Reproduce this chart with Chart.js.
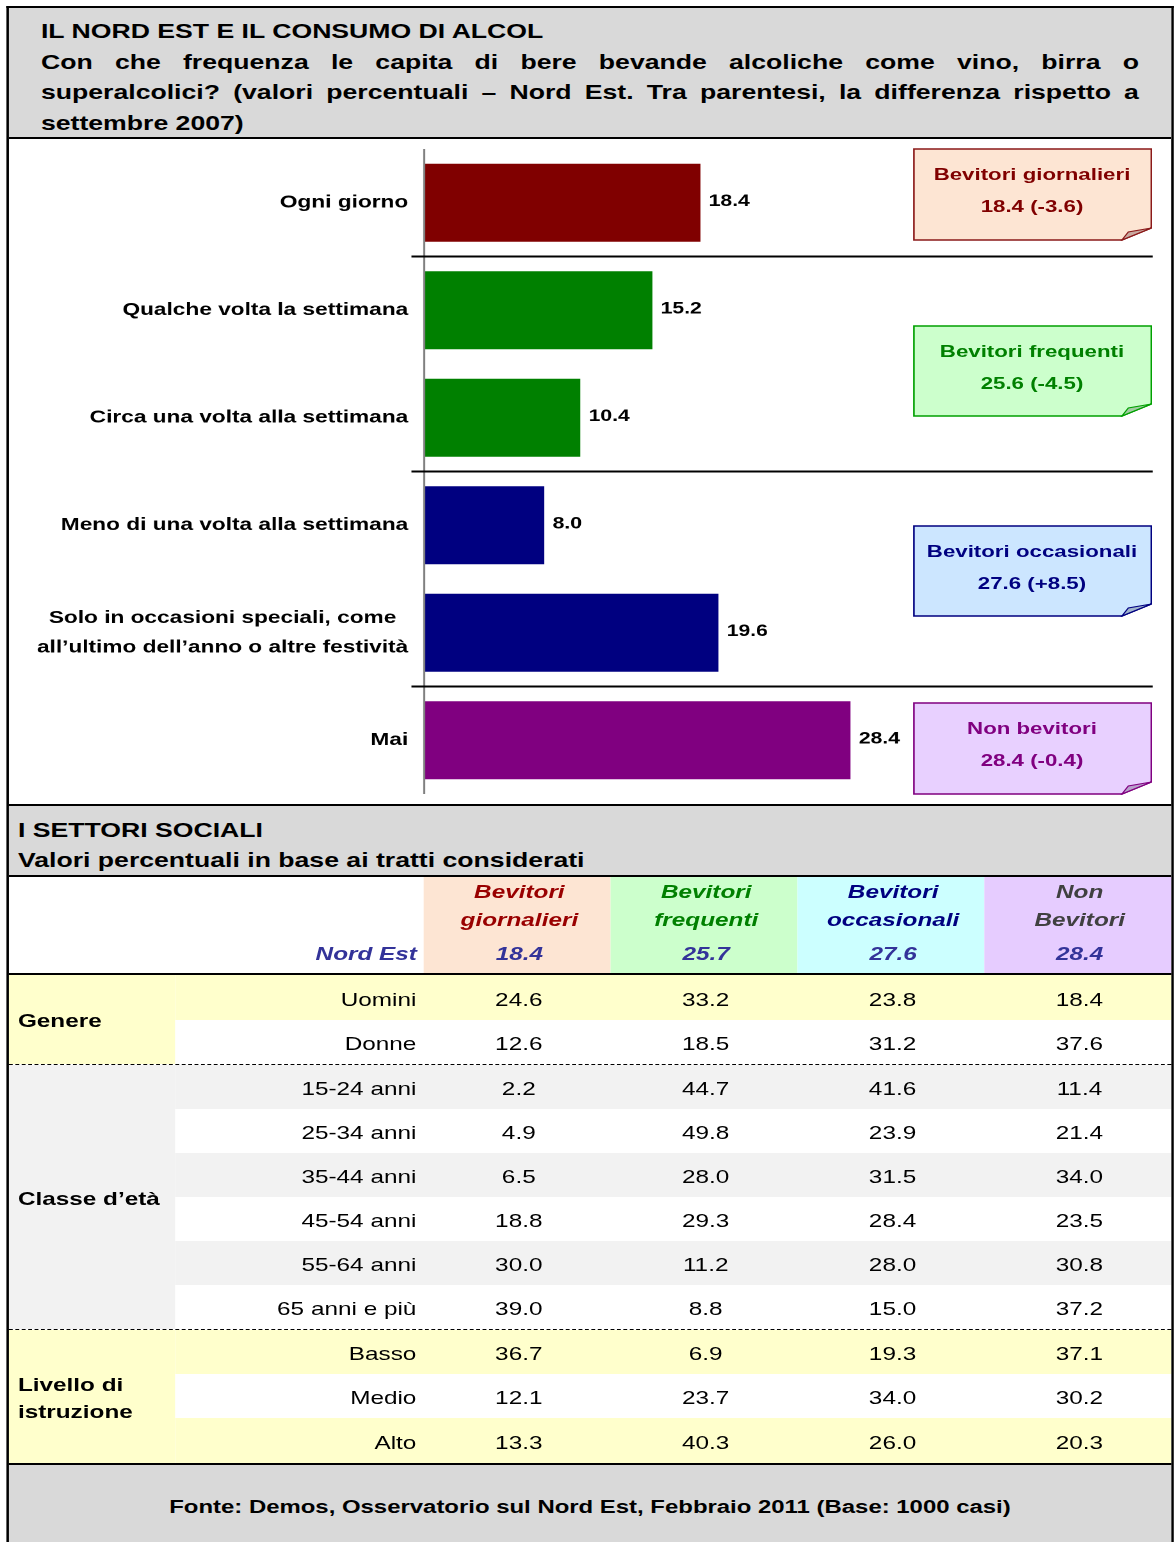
<!DOCTYPE html>
<html><head><meta charset="utf-8">
<script src="https://cdn.jsdelivr.net/npm/chart.js@4.4.0/dist/chart.umd.min.js"></script>
<style>
html,body{margin:0;padding:0;background:#fff;overflow:hidden;}
body{width:1176px;height:1542px;position:relative;}
#stage{position:absolute;left:0;top:0;width:918.75px;height:1542px;transform:scaleX(1.28);transform-origin:0 0;font-family:'Liberation Sans',Arial,sans-serif;color:#000;}
#frame{position:absolute;left:5px;top:6px;width:907.8px;height:1536px;border:2px solid #000;border-bottom:none;}
.blk{box-sizing:border-box;width:100%;position:relative;}
#hdr{height:131px;background:#d9d9d9;border-bottom:2px solid #000;padding:8px 25px 0 25px;font-weight:bold;font-size:20.8px;line-height:30.7px;}
#hdr .q{text-align:justify;}
#chartbox{height:667px;border-bottom:2px solid #000;}
#cwrap{position:absolute;left:0;top:0;width:907.8px;height:665px;}
.note{position:absolute;left:705.5px;width:187.5px;font-weight:bold;font-size:17.4px;line-height:32px;text-align:center;}
.note svg{position:absolute;left:0;top:0;width:100%;height:100%;}
.note .t{position:relative;padding-top:10px;}
#sec{height:71px;background:#d9d9d9;border-bottom:2px solid #000;padding:9px 0 0 7px;font-weight:bold;font-size:20.8px;line-height:30px;}
#thead{height:98px;border-bottom:2px solid #000;display:flex;}
#thead .lead{width:324.25px;position:relative;}
#thead .lead span{position:absolute;right:5.5px;top:63px;line-height:28px;}
#thead .hc{width:146px;position:relative;text-align:center;padding-left:3px;box-sizing:border-box;}
#thead .hc:last-child{flex:1;}
.hname{line-height:28px;padding-top:1px;}
.hnum{position:absolute;left:3px;right:0;top:63px;line-height:28px;color:#333399;}
#thead{font-weight:bold;font-style:italic;font-size:19px;}
.grp{display:flex;box-sizing:border-box;}
.glab{width:130.5px;display:flex;align-items:center;padding-left:7px;box-sizing:border-box;font-weight:bold;font-size:19px;line-height:27px;}
.glab div{position:relative;top:1px;}
.grows{flex:1;}
.row{display:flex;font-size:19px;}
.row > div{position:relative;top:2px;}
.row .sl{width:193.75px;text-align:right;padding-right:5.5px;box-sizing:border-box;}
.row .dc{width:146px;text-align:center;padding-left:3px;box-sizing:border-box;}
.row .dc:last-child{flex:1;}
#foot{height:77px;background:#d9d9d9;font-weight:bold;font-size:18.7px;text-align:center;line-height:83px;}
</style></head>
<body>
<div id="stage"><div id="frame">
  <div id="hdr" class="blk">
    <div id="title1"></div>
    <div class="q" id="title2"></div>
  </div>
  <div id="chartbox" class="blk">
    <div id="cwrap"><canvas id="c"></canvas></div>
    <div id="notes"></div>
  </div>
  <div id="sec" class="blk"><div id="sec1"></div><div id="sec2"></div></div>
  <div id="thead" class="blk"></div>
  <div id="tbody"></div>
  <div id="foot" class="blk"></div>
</div></div>
<script>
// ---------- data ----------
const titleText = 'IL NORD EST E IL CONSUMO DI ALCOL';
const questionText = 'Con che frequenza le capita di bere bevande alcoliche come vino, birra o superalcolici? (valori percentuali – Nord Est. Tra parentesi, la differenza rispetto a settembre 2007)';
const categories = [
  'Ogni giorno',
  'Qualche volta la settimana',
  'Circa una volta alla settimana',
  'Meno di una volta alla settimana',
  ['Solo in occasioni speciali, come', 'all’ultimo dell’anno o altre festività'],
  'Mai'
];
const values = [18.4, 15.2, 10.4, 8.0, 19.6, 28.4];
const barColors = ['#800000', '#008000', '#008000', '#000080', '#000080', '#800080'];
const groupEnds = [0, 2, 4];

const noteTitles = ['Bevitori giornalieri', 'Bevitori frequenti', 'Bevitori occasionali', 'Non bevitori'];
const noteValues = ['18.4 (-3.6)', '25.6 (-4.5)', '27.6 (+8.5)', '28.4 (-0.4)'];

const sectionTitle = 'I SETTORI SOCIALI';
const sectionSub = 'Valori percentuali in base ai tratti considerati';
const totalLabel = 'Nord Est';
const segmentNames = [['Bevitori', 'giornalieri'], ['Bevitori', 'frequenti'], ['Bevitori', 'occasionali'], ['Non', 'Bevitori']];
const segmentTotals = ['18.4', '25.7', '27.6', '28.4'];
const groupLabels = ['Genere', 'Classe d’età', 'Livello di<br>istruzione'];
const groupSizes = [2, 6, 3];
const rowLabels = ['Uomini', 'Donne', '15-24 anni', '25-34 anni', '35-44 anni', '45-54 anni', '55-64 anni', '65 anni e più', 'Basso', 'Medio', 'Alto'];
const giornalieri = ['24.6', '12.6', '2.2', '4.9', '6.5', '18.8', '30.0', '39.0', '36.7', '12.1', '13.3'];
const frequenti = ['33.2', '18.5', '44.7', '49.8', '28.0', '29.3', '11.2', '8.8', '6.9', '23.7', '40.3'];
const occasionali = ['23.8', '31.2', '41.6', '23.9', '31.5', '28.4', '28.0', '15.0', '19.3', '34.0', '26.0'];
const nonBevitori = ['18.4', '37.6', '11.4', '21.4', '34.0', '23.5', '30.8', '37.2', '37.1', '30.2', '20.3'];
const sourceText = 'Fonte: Demos, Osservatorio sul Nord Est, Febbraio 2011 (Base: 1000 casi)';

// ---------- styles ----------
const FONT = "'Liberation Sans', Arial, sans-serif";
const noteStyles = [
  {fill:'#fde5d3', stroke:'#8b1a1a', text:'#800000', fold:'#c9a9a0'},
  {fill:'#ccffcc', stroke:'#00a000', text:'#008000', fold:'#a0cca0'},
  {fill:'#cce6ff', stroke:'#000080', text:'#000080', fold:'#a0b4cc'},
  {fill:'#e8d0ff', stroke:'#800080', text:'#800080', fold:'#b8a0cc'}
];
const noteTops = [9, 186, 386, 563];
const noteHeights = [93, 92, 92, 93];
const headBg = ['#fde5d3', '#ccffcc', '#ccffff', '#e6ccff'];
const headColor = ['#990000', '#008000', '#000080', '#404040'];
const groupBg = ['#ffffcc', '#f2f2f2', '#ffffcc'];
const rowBgs = [['#ffffcc', '#ffffff'], ['#f2f2f2', '#ffffff', '#f2f2f2', '#ffffff', '#f2f2f2', '#ffffff'], ['#ffffcc', '#ffffff', '#ffffcc']];
const rowHeights = [[45, 44], [44, 44, 44, 44, 44, 44], [44, 44, 45]];

// ---------- header ----------
document.getElementById('title1').textContent = titleText;
document.getElementById('title2').textContent = questionText;
document.getElementById('sec1').textContent = sectionTitle;
document.getElementById('sec2').textContent = sectionSub;
document.getElementById('foot').textContent = sourceText;

// ---------- notes ----------
const notesEl = document.getElementById('notes');
noteTitles.forEach((t, i) => {
  const s = noteStyles[i], w = 187.5, h = noteHeights[i];
  const d = document.createElement('div');
  d.className = 'note';
  d.style.top = noteTops[i] + 'px';
  d.style.height = h + 'px';
  d.style.color = s.text;
  d.innerHTML = `<svg viewBox="0 0 ${w} ${h}" preserveAspectRatio="none">
    <path d="M1,1 H${w-1} V${h-13} L${w-24},${h-1} H1 Z" fill="${s.fill}" stroke="${s.stroke}" stroke-width="1.3"/>
    <path d="M${w-24},${h-1} L${w-1},${h-13} L${w-19},${h-9} Z" fill="${s.fold}" stroke="${s.stroke}" stroke-width="1"/>
  </svg><div class="t">${t}<br>${noteValues[i]}</div>`;
  notesEl.appendChild(d);
});

// ---------- table ----------
const th = document.getElementById('thead');
let hh = `<div class="lead" style="color:#333399"><span>${totalLabel}</span></div>`;
segmentNames.forEach((n, i) => {
  hh += `<div class="hc" style="background:${headBg[i]}"><div class="hname" style="color:${headColor[i]}">${n[0]}<br>${n[1]}</div><div class="hnum">${segmentTotals[i]}</div></div>`;
});
th.innerHTML = hh;

const tb = document.getElementById('tbody');
let idx = 0;
groupLabels.forEach((g, gi) => {
  const grp = document.createElement('div');
  grp.className = 'grp';
  if (gi < groupLabels.length - 1) grp.style.borderBottom = '1px dashed #000';
  else grp.style.borderBottom = '2px solid #000';
  let rows = '';
  for (let r = 0; r < groupSizes[gi]; r++) {
    const hgt = rowHeights[gi][r];
    rows += `<div class="row" style="background:${rowBgs[gi][r]};height:${hgt}px;line-height:${hgt}px">
      <div class="sl">${rowLabels[idx]}</div>
      <div class="dc">${giornalieri[idx]}</div><div class="dc">${frequenti[idx]}</div>
      <div class="dc">${occasionali[idx]}</div><div class="dc">${nonBevitori[idx]}</div></div>`;
    idx++;
  }
  grp.innerHTML = `<div class="glab" style="background:${groupBg[gi]}"><div>${g}</div></div><div class="grows">${rows}</div>`;
  tb.appendChild(grp);
});

// ---------- chart ----------
const overlay = {
  id: 'overlay',
  afterDatasetsDraw(chart) {
    const {ctx, chartArea: a, scales: {x, y}} = chart;
    ctx.save();
    ctx.strokeStyle = '#808080';
    ctx.lineWidth = 1.6;
    ctx.beginPath(); ctx.moveTo(a.left, a.top); ctx.lineTo(a.left, a.bottom); ctx.stroke();
    ctx.strokeStyle = '#000';
    ctx.lineWidth = 2;
    groupEnds.forEach(i => {
      const yy = (y.getPixelForValue(i) + y.getPixelForValue(i + 1)) / 2;
      ctx.beginPath(); ctx.moveTo(a.left - 10, yy); ctx.lineTo(chart.width - 14.8, yy); ctx.stroke();
    });
    ctx.fillStyle = '#000';
    ctx.textBaseline = 'middle';
    ctx.font = 'bold 17.7px ' + FONT;
    categories.forEach((lab, i) => {
      const yy = y.getPixelForValue(i);
      const lines = Array.isArray(lab) ? lab : [lab];
      const maxW = Math.max(...lines.map(l => ctx.measureText(l).width));
      const right = a.left - 12.5;
      ctx.textAlign = 'center';
      lines.forEach((l, j) => ctx.fillText(l, right - maxW / 2, yy + (j - (lines.length - 1) / 2) * 29.5));
    });
    ctx.font = 'bold 16.5px ' + FONT;
    ctx.textAlign = 'left';
    values.forEach((v, i) => ctx.fillText(v.toFixed(1), x.getPixelForValue(v) + 6.5, y.getPixelForValue(i) - 1.5));
    ctx.restore();
  }
};

new Chart(document.getElementById('c'), {
  type: 'bar',
  data: {
    labels: categories,
    datasets: [{data: values, backgroundColor: barColors, borderWidth: 0, barPercentage: 0.725, categoryPercentage: 1}]
  },
  options: {
    indexAxis: 'y',
    responsive: true,
    maintainAspectRatio: false,
    animation: false,
    devicePixelRatio: 2,
    layout: {padding: {left: 324.25, right: 114.8, top: 10, bottom: 10}},
    plugins: {legend: {display: false}, tooltip: {enabled: false}},
    scales: {
      x: {display: false, min: 0, max: 40},
      y: {display: false}
    }
  },
  plugins: [overlay]
});
</script>
</body></html>
